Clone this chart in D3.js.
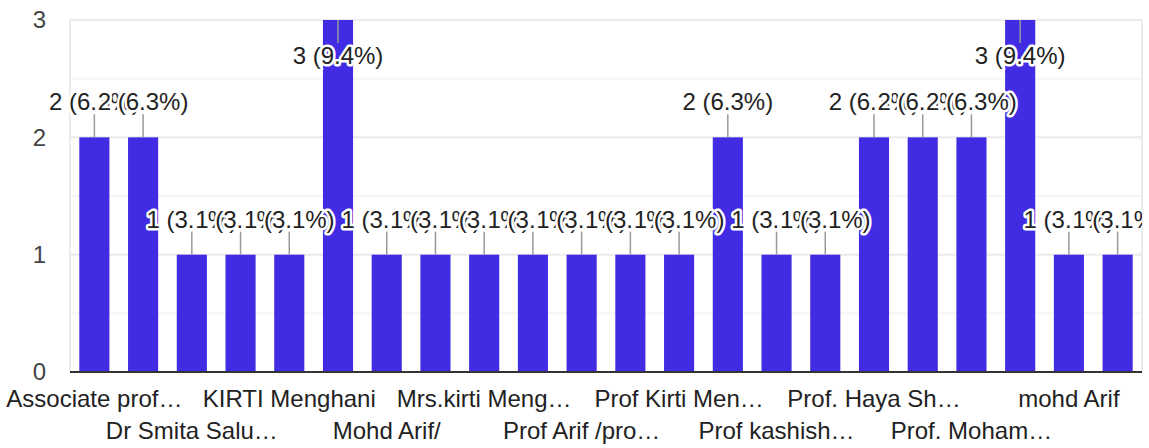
<!DOCTYPE html>
<html>
<head>
<meta charset="utf-8">
<script src="https://cdn.jsdelivr.net/npm/d3@7"></script>
<style>
  html, body { margin: 0; padding: 0; background: #fff; }
  svg { display: block; font-family: Arial, "Liberation Sans", sans-serif; }
</style>
</head>
<body>
<svg id="chart" width="1149" height="448"></svg>
<script>
// Categories (sorted as in the form; only every other label is shown by the chart)
const categories = [
  "Associate prof…", "", "Dr Smita Salu…", "", "KIRTI Menghani", "",
  "Mohd Arif/", "", "Mrs.kirti Meng…", "", "Prof Arif /pro…", "",
  "Prof Kirti Men…", "", "Prof kashish…", "", "Prof. Haya Sh…", "",
  "Prof. Moham…", "", "mohd Arif", ""
];
const counts = [2, 2, 1, 1, 1, 3, 1, 1, 1, 1, 1, 1, 1, 2, 1, 1, 2, 2, 2, 3, 1, 1];
const yTicks = [0, 1, 2, 3];
const yMinorTicks = [0.5, 1.5, 2.5];

(function () {
const total = d3.sum(counts);
const W = 1149, H = 448;
const pLeft = 70, pRight = 1142, pTop = 20, pBottom = 372;
const FS = 24;

const svg = d3.select("#chart");

const x = d3.scaleBand()
  .domain(d3.range(counts.length))
  .range([pLeft, pRight])
  .paddingInner(0.382)
  .paddingOuter(0.191);

const y = d3.scaleLinear().domain([0, 3]).range([pBottom, pTop]);

svg.append("defs").append("clipPath").attr("id", "annClip")
  .append("rect").attr("x", 0).attr("y", 0).attr("width", pRight).attr("height", H);

// minor gridlines
svg.append("g").selectAll("line").data(yMinorTicks).join("line")
  .attr("x1", pLeft).attr("x2", pRight)
  .attr("y1", d => y(d)).attr("y2", d => y(d))
  .attr("stroke", "#f3f3f3").attr("stroke-width", 1.5);

// major gridlines
svg.append("g").selectAll("line").data(yTicks.filter(d => d > 0)).join("line")
  .attr("x1", pLeft).attr("x2", pRight)
  .attr("y1", d => y(d)).attr("y2", d => y(d))
  .attr("stroke", "#ebebeb").attr("stroke-width", 2);

// vertical frame lines
svg.append("g").selectAll("line").data([pLeft, pRight]).join("line")
  .attr("x1", d => d).attr("x2", d => d)
  .attr("y1", pTop).attr("y2", pBottom)
  .attr("stroke", "#ebebeb").attr("stroke-width", 2);

// bars
svg.append("g").selectAll("rect").data(counts).join("rect")
  .attr("x", (d, i) => x(i))
  .attr("width", x.bandwidth())
  .attr("y", d => y(d))
  .attr("height", d => y(0) - y(d))
  .attr("fill", "#412be3");

// baseline
svg.append("line")
  .attr("x1", pLeft).attr("x2", pRight)
  .attr("y1", pBottom).attr("y2", pBottom)
  .attr("stroke", "#333").attr("stroke-width", 2);

// y axis
const yAxis = svg.append("g")
  .attr("transform", `translate(${pLeft},0)`)
  .call(d3.axisLeft(y).tickValues(yTicks).tickSize(0).tickPadding(24).tickFormat(d3.format("d")));
yAxis.select(".domain").remove();
yAxis.selectAll("text")
  .attr("font-size", FS).attr("fill", "#444").attr("font-family", "Arial, 'Liberation Sans', sans-serif");

// x axis
const shown = d3.range(0, counts.length, 2);
const xAxis = svg.append("g")
  .attr("transform", `translate(0,${pBottom})`)
  .call(d3.axisBottom(x).tickValues(shown).tickSize(0).tickFormat(i => categories[i]));
xAxis.select(".domain").remove();
xAxis.selectAll("text")
  .attr("font-size", FS).attr("fill", "#222").attr("font-family", "Arial, 'Liberation Sans', sans-serif")
  .attr("dy", 0)
  .attr("y", (d, k) => (k % 2 === 0 ? 35 : 67));

// annotations
const maxVal = y.domain()[1];
const ann = svg.append("g").attr("clip-path", "url(#annClip)");
counts.forEach((v, i) => {
  const cx = x(i) + x.bandwidth() / 2;
  const inside = v >= maxVal;
  const y0 = y(v);
  const y1 = inside ? y0 + 23 : y0 - 23;
  const ty = inside ? y0 + 44 : y0 - 27;
  ann.append("line")
    .attr("x1", cx).attr("x2", cx).attr("y1", y0).attr("y2", y1)
    .attr("stroke", "#999").attr("stroke-width", 1.5);
  const pct = (v / total * 100).toFixed(1);
  ann.append("text")
    .attr("x", cx).attr("y", ty)
    .attr("text-anchor", "middle")
    .attr("font-size", FS)
    .attr("fill", "#222")
    .attr("stroke", "#fff").attr("stroke-width", 5)
    .attr("paint-order", "stroke")
    .attr("stroke-linejoin", "round")
    .text(`${v} (${pct}%)`);
});
})();
</script>
</body>
</html>
